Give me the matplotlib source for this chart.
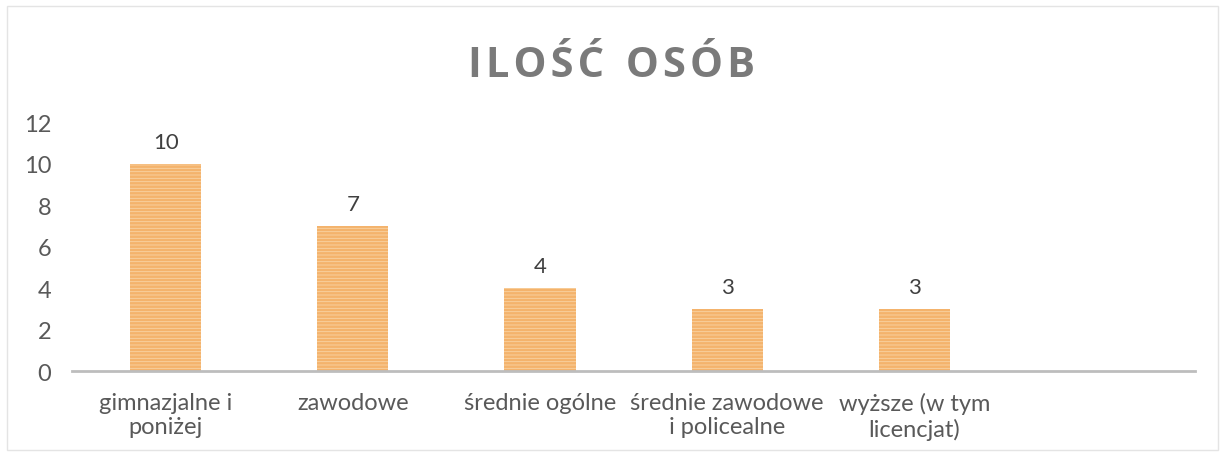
import matplotlib.pyplot as plt
from matplotlib.patches import Rectangle

plt.rcParams['hatch.linewidth'] = 0.6

# data
categories = ["gimnazjalne i\nponiżej", "zawodowe", "średnie ogólne",
              "średnie zawodowe\ni policealne", "wyższe (w tym\nlicencjat)", ""]
values = [10, 7, 4, 3, 3, None]
title = "ILOŚĆ OSÓB"

fig = plt.figure(figsize=(12.23, 4.56), dpi=100)
ax = fig.add_axes([0.059, 0.184, 0.918, 0.545])

x = list(range(len(categories)))
xs = [i for i, v in zip(x, values) if v is not None]
vs = [v for v in values if v is not None]
bars = ax.bar(xs, vs, width=0.38, color='#f4b36c', edgecolor='#f9d3a4',
              linewidth=0, hatch='-----', zorder=2)
for b, v in zip(bars, vs):
    ax.text(b.get_x() + b.get_width() / 2, v + 0.6, str(v), ha='center',
            va='bottom', fontsize=16, color='#404040', family='Lato')

ax.set_xlim(-0.5, len(categories) - 0.5)
ax.set_ylim(0, 12)
ax.set_yticks(range(0, 13, 2))
ax.set_xticks(x)
ax.set_xticklabels(categories, fontsize=17, color='#595959', family='Lato',
                   linespacing=1.2)
ax.tick_params(axis='both', length=0, labelsize=17, labelcolor='#595959')
ax.tick_params(axis='x', pad=15)
ax.tick_params(axis='y', pad=15)
for lbl in ax.get_yticklabels():
    lbl.set_family('Lato')
for s in ['top', 'right', 'left']:
    ax.spines[s].set_visible(False)
ax.spines['bottom'].set_color('#bdbdbd')
ax.spines['bottom'].set_linewidth(2)

# letter-spaced title
spaced = "\u200a".join(title).replace("\u200a \u200a", "  ")
fig.text(0.5, 0.831, spaced, ha='center', va='baseline',
         fontsize=30, fontweight='bold', color='#7a7a7a', family='Open Sans')

# faint chart frame
fig.patches.append(Rectangle((0.006, 0.01), 0.99, 0.975, transform=fig.transFigure,
                             fill=False, edgecolor='#e4e4e4', linewidth=1))

fig.savefig("out.png", dpi=100)
